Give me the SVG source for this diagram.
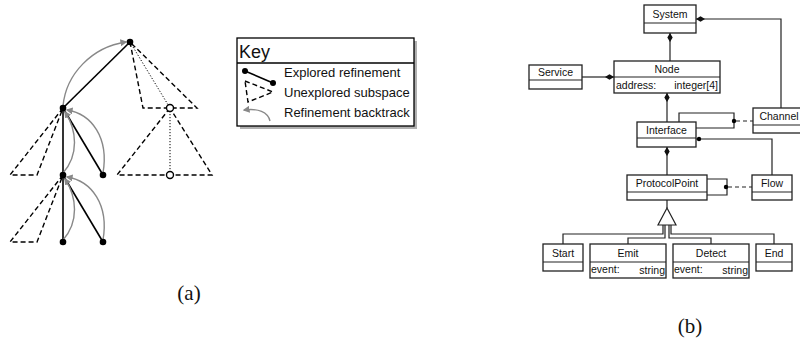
<svg xmlns="http://www.w3.org/2000/svg" width="800" height="339" viewBox="0 0 800 339">
<defs>
<style>
.solid{stroke:#000;stroke-width:1.6;fill:none}
.dash{stroke:#000;stroke-width:1.4;fill:none;stroke-dasharray:5 3}
.dot{stroke:#000;stroke-width:1;fill:none;stroke-dasharray:1.2 1.8}
.back{stroke:#888;stroke-width:1.4;fill:none;marker-end:url(#garrow)}
.node{fill:#000}
.open{fill:#fff;stroke:#000;stroke-width:1.4}
.box{fill:#fff;stroke:#222;stroke-width:1.3}
.ln{stroke:#222;stroke-width:1.2;fill:none}
.dl{stroke:#222;stroke-width:1.2;fill:none;stroke-dasharray:4 3}
.t{font-family:"Liberation Sans",Arial,sans-serif;font-size:10.5px;fill:#111}
.m{text-anchor:middle}
.e{text-anchor:end}
.k{font-family:"Liberation Sans",Arial,sans-serif;font-size:13px;fill:#111}
.cap{font-family:"Liberation Serif","DejaVu Serif",serif;font-size:21px;fill:#111;text-anchor:middle}
</style>
<marker id="garrow" viewBox="0 0 10 10" refX="8" refY="5" markerWidth="7" markerHeight="7" markerUnits="userSpaceOnUse" orient="auto">
<path d="M0,0 L10,5 L0,10 z" fill="#888"/>
</marker>
<marker id="dia" viewBox="0 0 10 6" refX="0" refY="3" markerWidth="9" markerHeight="5.4" markerUnits="userSpaceOnUse" orient="auto">
<path d="M0,3 L5,0 L10,3 L5,6 z" fill="#111"/>
</marker>
</defs>
<rect width="800" height="339" fill="#fff"/>

<!-- (a) search tree -->
<g id="tree-connectors">
<polygon class="dash" points="63,108 10,175 37,175"/>
<polygon class="dash" points="63,175 10,242 37,242"/>
<polygon class="dash" points="130,42 143,108 197,108"/>
<polygon class="dash" points="170,108 117,175 212,175"/>
<line class="dot" x1="130" y1="42" x2="170" y2="108"/>
<line class="dot" x1="170" y1="108" x2="170" y2="175"/>
<line class="solid" x1="130" y1="42" x2="63" y2="108"/>
<line class="solid" x1="63" y1="108" x2="63" y2="175"/>
<line class="solid" x1="63" y1="108" x2="103" y2="175"/>
<line class="solid" x1="63" y1="175" x2="63" y2="242"/>
<line class="solid" x1="63" y1="175" x2="103" y2="242"/>
<path class="back" d="M63,106 C66,74 92,47 126,42"/>
<path class="back" d="M63,173 C79,155 77,130 65,112"/>
<path class="back" d="M103,173 C109,138 92,114 67,110"/>
<path class="back" d="M63,240 C79,222 77,197 65,179"/>
<path class="back" d="M103,240 C109,205 92,181 67,177"/>
</g>
<g id="t-root"><circle class="node" cx="130" cy="42" r="3.3"/></g>
<g id="t-a"><circle class="node" cx="63" cy="108" r="3.3"/></g>
<g id="t-b"><circle class="node" cx="63" cy="175" r="3.3"/></g>
<g id="t-c"><circle class="node" cx="103" cy="175" r="3.3"/></g>
<g id="t-d"><circle class="node" cx="63" cy="242" r="3.3"/></g>
<g id="t-e"><circle class="node" cx="103" cy="242" r="3.3"/></g>
<g id="t-o1"><circle class="open" cx="170" cy="108" r="3.5"/></g>
<g id="t-o2"><circle class="open" cx="170" cy="175" r="3.5"/></g>

<!-- Key -->
<g id="key">
<rect x="240" y="41" width="177" height="88" fill="#b0b0b0"/>
<rect x="237" y="38" width="177" height="88" fill="#fff" stroke="#000" stroke-width="1.3"/>
<line x1="237" y1="63" x2="414" y2="63" stroke="#000" stroke-width="1.3"/>
<text x="239" y="58" font-family="Liberation Sans,Arial,sans-serif" font-size="18" fill="#111">Key</text>
<line class="solid" x1="245" y1="71" x2="273" y2="83"/>
<circle class="node" cx="245" cy="71" r="3"/>
<circle class="node" cx="273" cy="83" r="3"/>
<polygon class="dash" points="245,81 273,92 248,102"/>
<path class="back" d="M270,121 C268,112 258,108 244,110"/>
<text class="k" x="284" y="77">Explored refinement</text>
<text class="k" x="284" y="97">Unexplored subspace</text>
<text class="k" x="284" y="117">Refinement backtrack</text>
</g>
<text class="cap" x="189" y="300">(a)</text>

<!-- (b) UML -->
<g id="uml-connectors">
<path class="ln" d="M670,33 V61" marker-start="url(#dia)"/>
<path class="ln" d="M696,19 H781 V108" marker-start="url(#dia)"/>
<path class="ln" d="M614,77 H582" marker-start="url(#dia)"/>
<path class="ln" d="M667,93 V122" marker-start="url(#dia)"/>
<path class="ln" d="M679,122 V113 H734 V128 H696"/>
<circle class="node" cx="734" cy="121" r="2.2"/>
<path class="dl" d="M736,121 H753"/>
<path class="ln" d="M696,139 H772 V175"/>
<circle class="node" cx="699" cy="139" r="2.2"/>
<path class="ln" d="M667,147 V175" marker-start="url(#dia)"/>
<path class="ln" d="M707,179 H727 V195 H707"/>
<circle class="node" cx="726" cy="187" r="2.2"/>
<path class="dl" d="M728,187 H752"/>
<path class="ln" d="M667,200 V208"/>
<path class="ln" d="M663,225 V234 H563 V244"/>
<path class="ln" d="M665,225 V238 H628 V244"/>
<path class="ln" d="M669,225 V238 H711 V244"/>
<path class="ln" d="M671,225 V234 H774 V244"/>
<polygon points="667,208 658,225 676,225" fill="#fff" stroke="#222" stroke-width="1.2"/>
</g>

<g id="system">
<rect class="box" x="644" y="5" width="52" height="28"/>
<line class="ln" x1="644" y1="23" x2="696" y2="23"/>
<text class="t m" x="670" y="18">System</text>
</g>
<g id="node">
<rect class="box" x="614" y="61" width="106" height="32"/>
<line class="ln" x1="614" y1="77" x2="720" y2="77"/>
<text class="t m" x="667" y="73">Node</text>
<text class="t" x="616" y="89">address:</text>
<text class="t e" x="718" y="89">integer[4]</text>
</g>
<g id="service">
<rect class="box" x="529" y="65" width="53" height="24"/>
<line class="ln" x1="529" y1="80" x2="582" y2="80"/>
<text class="t m" x="555.5" y="76">Service</text>
</g>
<g id="interface">
<rect class="box" x="637" y="122" width="59" height="25"/>
<line class="ln" x1="637" y1="138" x2="696" y2="138"/>
<text class="t m" x="666.5" y="134">Interface</text>
</g>
<g id="channel">
<rect class="box" x="753" y="108" width="53" height="25"/>
<line class="ln" x1="753" y1="125" x2="806" y2="125"/>
<text class="t m" x="779" y="120">Channel</text>
</g>
<g id="protocolpoint">
<rect class="box" x="627" y="175" width="80" height="25"/>
<line class="ln" x1="627" y1="192" x2="707" y2="192"/>
<text class="t m" x="667" y="187">ProtocolPoint</text>
</g>
<g id="flow">
<rect class="box" x="752" y="175" width="40" height="25"/>
<line class="ln" x1="752" y1="192" x2="792" y2="192"/>
<text class="t m" x="772" y="187">Flow</text>
</g>
<g id="start">
<rect class="box" x="543" y="244" width="40" height="27"/>
<line class="ln" x1="543" y1="262" x2="583" y2="262"/>
<text class="t m" x="563" y="256.5">Start</text>
</g>
<g id="emit">
<rect class="box" x="590" y="244" width="76" height="34"/>
<line class="ln" x1="590" y1="262" x2="666" y2="262"/>
<text class="t m" x="628" y="256.5">Emit</text>
<text class="t" x="591" y="273">event:</text>
<text class="t e" x="665" y="274">string</text>
</g>
<g id="detect">
<rect class="box" x="673" y="244" width="76" height="34"/>
<line class="ln" x1="673" y1="262" x2="749" y2="262"/>
<text class="t m" x="711" y="256.5">Detect</text>
<text class="t" x="674" y="273">event:</text>
<text class="t e" x="748" y="274">string</text>
</g>
<g id="end">
<rect class="box" x="756" y="244" width="36" height="27"/>
<line class="ln" x1="756" y1="262" x2="792" y2="262"/>
<text class="t m" x="774" y="256.5">End</text>
</g>
<text class="cap" x="690" y="333">(b)</text>
</svg>
